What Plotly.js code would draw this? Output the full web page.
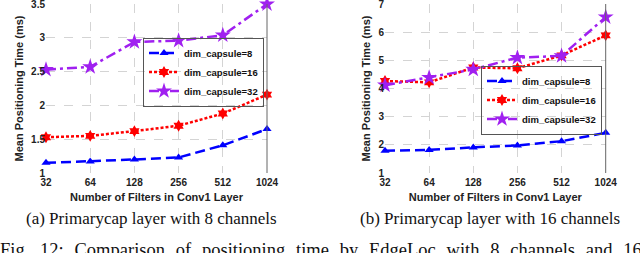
<!DOCTYPE html>
<html>
<head>
<meta charset="utf-8">
<script src="https://cdn.plot.ly/plotly-3.0.1.min.js"></script>
<style>
html,body{margin:0;padding:0;background:#fff;overflow:hidden;}
#chart{width:640px;height:253px;}
</style>
</head>
<body>
<div id="chart"></div>
<script>
// Number of filters in Conv1 layer (x categories)
const filters = ['32', '64', '128', '256', '512', '1024'];
const seriesNames = ['dim_capsule=8', 'dim_capsule=16', 'dim_capsule=32'];

// (a) Primarycap layer with 8 channels — mean positioning time (ms)
const a_dim8  = [1.15, 1.17, 1.20, 1.23, 1.41, 1.65];
const a_dim16 = [1.53, 1.55, 1.62, 1.70, 1.88, 2.16];
const a_dim32 = [2.53, 2.57, 2.94, 2.96, 3.04, 3.50];

// (b) Primarycap layer with 16 channels — mean positioning time (ms)
const b_dim8  = [1.79, 1.82, 1.91, 1.98, 2.13, 2.43];
const b_dim16 = [4.27, 4.22, 4.75, 4.72, 5.18, 5.89];
const b_dim32 = [4.12, 4.39, 4.68, 5.10, 5.16, 6.54];

const yTicksA = [1, 1.5, 2, 2.5, 3, 3.5];
const yTicksB = [1, 2, 3, 4, 5, 6, 7];

const xTitle = 'Number of Filters in Conv1 Layer';
const yTitle = 'Mean Positioning Time (ms)';
const captionA = '(a) Primarycap layer with 8 channels';
const captionB = '(b) Primarycap layer with 16 channels';
const figWords = ['Fig.', '12:', 'Comparison', 'of', 'positioning', 'time', 'by', 'EdgeLoc', 'with', '8', 'channels', 'and', '16'];
const figCaption = figWords.join('&#8196; ');

const styles = [
  {color: '#0000ff', dash: '10px,5px', symbol: 'triangle-up', size: 8},
  {color: '#ff0000', dash: '3px,2px', symbol: 'hexagram', size: 9},
  {color: '#a020f0', dash: '10px,4px,3px,4px', symbol: 'star', size: 12}
];

function mk(y, i, xa, ya, leg) {
  const s = styles[i];
  return {
    x: filters, y: y, type: 'scatter', mode: 'lines+markers',
    name: seriesNames[i], xaxis: xa, yaxis: ya, legend: leg,
    cliponaxis: false,
    line: {color: s.color, width: 2.5, dash: s.dash},
    marker: {color: s.color, symbol: s.symbol, size: s.size, line: {width: 0}}
  };
}

const data = [
  mk(a_dim8, 0, 'x', 'y', 'legend'),
  mk(a_dim16, 1, 'x', 'y', 'legend'),
  mk(a_dim32, 2, 'x', 'y', 'legend'),
  mk(b_dim8, 0, 'x2', 'y2', 'legend2'),
  mk(b_dim16, 1, 'x2', 'y2', 'legend2'),
  mk(b_dim32, 2, 'x2', 'y2', 'legend2')
];

const sans = 'Liberation Sans, Arial, sans-serif';
const serif = 'Liberation Serif, Times New Roman, serif';
const tickFont = {family: sans, size: 10, color: '#222', weight: 'bold'};
const titleFont = {family: sans, size: 11, color: '#222', weight: 'bold'};
const gridColor = '#d4d4d4';

function xax(domain, anchor) {
  return {
    domain: domain, type: 'category', range: [0, 5], anchor: anchor,
    showgrid: true, gridcolor: gridColor, griddash: 'dash', gridwidth: 1,
    zeroline: false, showline: false, ticks: '', tickfont: tickFont,
    ticklabelstandoff: 2, ticklabeloverflow: 'allow',
    automargin: false, fixedrange: true,
    title: {text: xTitle, font: titleFont, standoff: 6}
  };
}
function yax(range, vals, anchor) {
  return {
    domain: [80 / 253, 249 / 253], range: range, anchor: anchor,
    tickvals: vals, ticktext: vals.map(String),
    showgrid: true, gridcolor: gridColor, griddash: 'dash', gridwidth: 1,
    zeroline: false, showline: false, ticks: '', tickfont: tickFont,
    ticklabeloverflow: 'allow',
    automargin: false, fixedrange: true,
    title: {text: yTitle, font: titleFont, standoff: 5}
  };
}

const legendBase = {
  bgcolor: 'rgba(255,255,255,0)', bordercolor: '#555', borderwidth: 1,
  font: {family: sans, size: 9.5, color: '#111', weight: 'bold'},
  itemwidth: 30, tracegroupgap: 0
};

const layout = {
  width: 640, height: 253,
  margin: {l: 0, r: 0, t: 0, b: 0},
  paper_bgcolor: '#fff', plot_bgcolor: '#fff',
  showlegend: true,
  xaxis: xax([46 / 640, 267 / 640], 'y'),
  yaxis: yax([1, 3.502], yTicksA, 'x'),
  xaxis2: xax([385 / 640, 605.7 / 640], 'y2'),
  yaxis2: yax([1, 7.005], yTicksB, 'x2'),
  legend: Object.assign({}, legendBase, {x: 264 / 640, xanchor: 'right', y: (253 - 72) / 253, yanchor: 'middle'}),
  legend2: Object.assign({}, legendBase, {x: 602 / 640, xanchor: 'right', y: (253 - 100) / 253, yanchor: 'middle'}),
  shapes: [
    {type: 'line', xref: 'x domain', yref: 'y domain', x0: 1, x1: 1, y0: 0, y1: 1, line: {color: '#666', width: 1}},
    {type: 'line', xref: 'x2 domain', yref: 'y2 domain', x0: 1, x1: 1, y0: 0, y1: 1, line: {color: '#666', width: 1}}
  ],
  annotations: [
    {text: captionA, xref: 'paper', yref: 'paper', x: 151 / 640, y: (253 - 218) / 253, xanchor: 'center', yanchor: 'middle', showarrow: false, font: {family: serif, size: 17, color: '#111'}},
    {text: captionB, xref: 'paper', yref: 'paper', x: 490 / 640, y: (253 - 218) / 253, xanchor: 'center', yanchor: 'middle', showarrow: false, font: {family: serif, size: 17, color: '#111'}},
    {text: figCaption, xref: 'paper', yref: 'paper', x: -2 / 640, y: (253 - 249.5) / 253, xanchor: 'left', yanchor: 'middle', showarrow: false, font: {family: serif, size: 18.5, color: '#111'}}
  ]
};

Plotly.newPlot('chart', data, layout, {displayModeBar: false, staticPlot: true});
</script>
</body>
</html>
